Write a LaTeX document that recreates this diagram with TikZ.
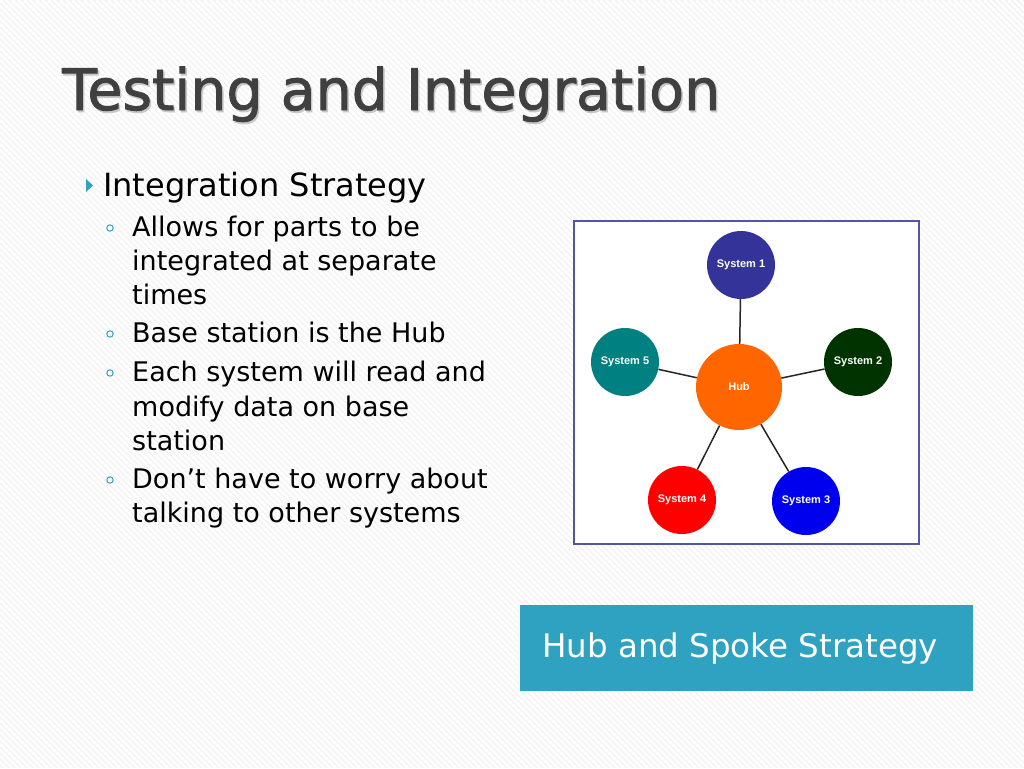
\documentclass[tikz,border=0pt]{standalone}
\usepackage{fontspec}
\setmainfont{DejaVu Sans}
\newfontfamily\titlefont[FakeBold=1.6]{DejaVu Sans}
\newfontfamily\arialfont{Liberation Sans}
\definecolor{bgcol}{HTML}{F2F2F2}
\definecolor{titlecol}{HTML}{404040}
\definecolor{shadowcol}{HTML}{C8C8C8}
\definecolor{accent}{HTML}{2EA2C0}
\definecolor{framecol}{HTML}{5555A5}
\definecolor{sysone}{HTML}{333399}
\definecolor{systwo}{HTML}{003300}
\definecolor{systhree}{HTML}{0000EE}
\definecolor{sysfour}{HTML}{FF0000}
\definecolor{sysfive}{HTML}{008080}
\definecolor{hubcol}{HTML}{FF6600}

\begin{document}
\begin{tikzpicture}[x=1pt,y=-1pt,
    sys/.style={shape=circle, minimum size=68pt, inner sep=0pt, text=white, font=\arialfont\bfseries\fontsize{11}{13}\selectfont},
    txt/.style={anchor=base west, inner sep=0pt},
    spoke/.style={line width=1.5pt, black!85}]
      \useasboundingbox (0,0) rectangle (1024,768);
      \fill[bgcol] (0,0) rectangle (1024,768);
      \begin{scope}
        \clip (0,0) rectangle (1024,768);
        \foreach \i in {-780,-774,...,1024}
          \draw[white, line width=2.5pt] (\i,0) -- ++(780,780);
      \end{scope}

      % title
      \node[txt, text=shadowcol, font=\titlefont\fontsize{57}{60}\selectfont] (titleshadow) at (63.5,112) {Testing and Integration};
      \node[txt, text=titlecol, font=\titlefont\fontsize{57}{60}\selectfont] (title) at (62,110) {Testing and Integration};

      % bullets
      \fill[accent] (86,179) -- (93,185.5) -- (86,192) -- cycle;
      \node[txt, font=\fontsize{32}{38}\selectfont] (head) at (103,196) {Integration Strategy};
      \foreach \y in {228,334,373,480}
        \draw[accent, line width=1pt] (110,\y) circle (3.2);
      \begin{scope}[every node/.style={txt, font=\fontsize{27}{34}\selectfont}]
        \node (la) at (132,236) {Allows for parts to be};
        \node (lb) at (132,270) {integrated at separate};
        \node (lc) at (132,304) {times};
        \node (ld) at (132,342) {Base station is the Hub};
        \node (le) at (132,381) {Each system will read and};
        \node (lf) at (132,416) {modify data on base};
        \node (lg) at (132,450) {station};
        \node (lh) at (132,488) {Don’t have to worry about};
        \node (li) at (132,522) {talking to other systems};
      \end{scope}

      % hub and spoke picture
      \draw[framecol, line width=2pt, fill=white] (574,221) rectangle (919,544);
      \node[sys, fill=hubcol, minimum size=86pt] (hub) at (739,387) {Hub};
      \node[sys, fill=sysone] (sys1) at (741,265) {System 1};
      \node[sys, fill=systwo] (sys2) at (858,362) {System 2};
      \node[sys, fill=systhree] (sys3) at (806,501) {System 3};
      \node[sys, fill=sysfour] (sys4) at (682,500) {System 4};
      \node[sys, fill=sysfive] (sys5) at (625,362) {System 5};

      \draw[spoke] (hub) -- (sys1);
      \draw[spoke] (hub) -- (sys2);
      \draw[spoke] (hub) -- (sys3);
      \draw[spoke] (hub) -- (sys4);
      \draw[spoke] (hub) -- (sys5);

      % caption
      \node[fill=accent, anchor=north west, minimum width=453pt, minimum height=86pt, inner sep=0pt] (capbox) at (520,605) {};
      \node[txt, text=white, font=\fontsize{32.5}{38}\selectfont] (captext) at (542,657) {Hub and Spoke Strategy};
    \end{tikzpicture}
\end{document}
